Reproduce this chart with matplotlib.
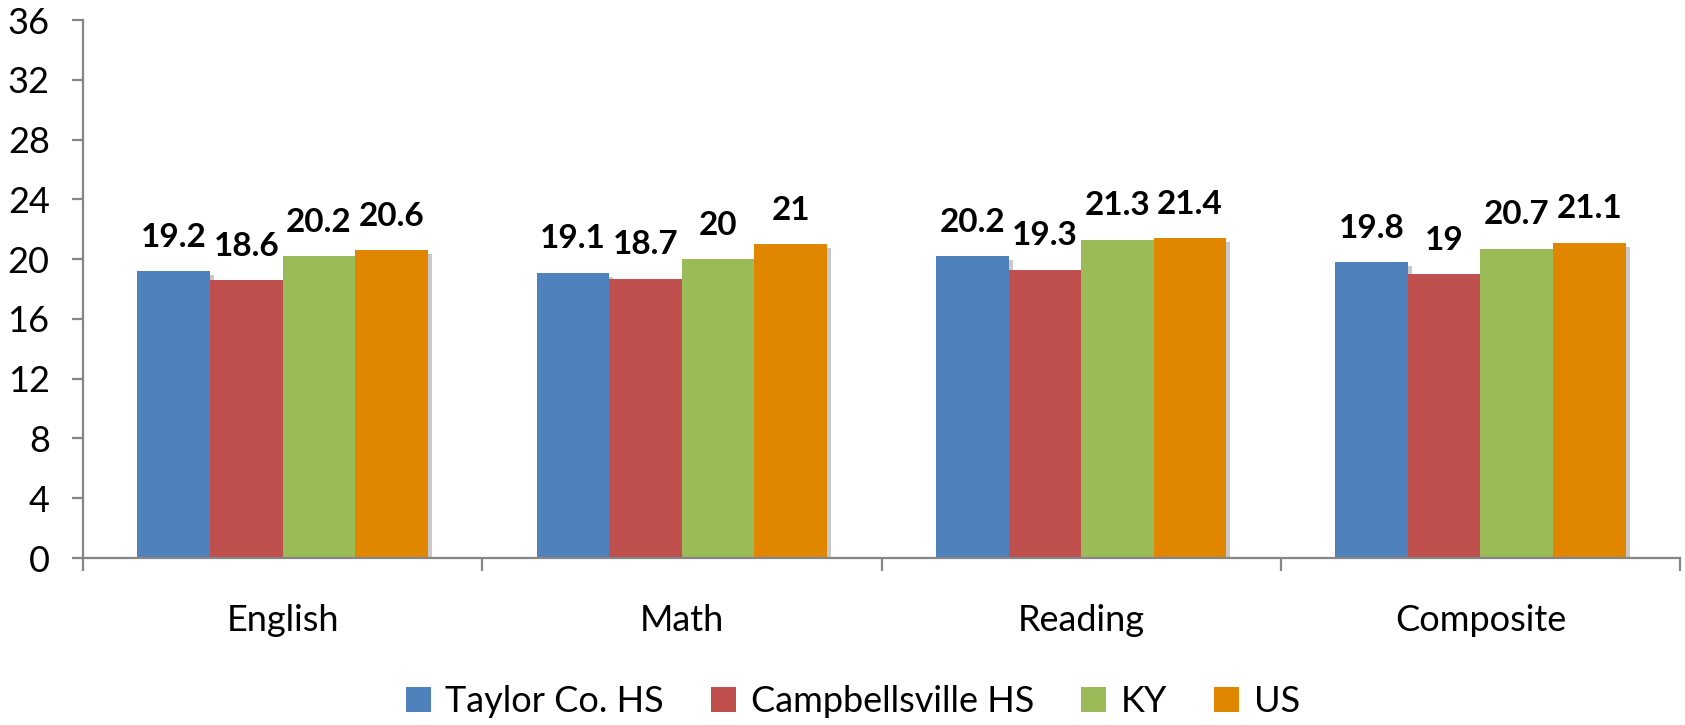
import matplotlib
matplotlib.use("Agg")
import matplotlib.pyplot as plt
import matplotlib.patheffects as pe
import numpy as np

plt.rcParams["font.family"] = ["Lato", "DejaVu Sans"]

SUBJECTS = ["English", "Math", "Reading", "Composite"]
SERIES = ["Taylor Co. HS", "Campbellsville HS", "KY", "US"]
TAYLOR = [19.2, 19.1, 20.2, 19.8]
CAMPBELLSVILLE = [18.6, 18.7, 19.3, 19.0]
KY = [20.2, 20.0, 21.3, 20.7]
US = [20.6, 21.0, 21.4, 21.1]
YTICKS = [0, 4, 8, 12, 16, 20, 24, 28, 32, 36]

COLORS = ["#4F81BD", "#C0504D", "#9BBB59", "#E08600"]
AXIS_GRAY = "#868686"
FS = 26


def fmt(v):
    return f"{v:g}"


fig = plt.figure(figsize=(16.85, 7.25), dpi=100)
ax = fig.add_axes([83 / 1685, 1 - 558 / 725, (1680 - 83) / 1685, (558 - 20) / 725])

x = np.arange(len(SUBJECTS))
n = len(SERIES)
bar_w = 4 / (4 + 1.5) / n
shadow = [pe.SimplePatchShadow(offset=(3, -3), shadow_rgbFace="#888888", alpha=0.45),
          pe.Normal()]

for i, (name, vals, col) in enumerate(zip(SERIES, [TAYLOR, CAMPBELLSVILLE, KY, US], COLORS)):
    pos = x + (i - (n - 1) / 2) * bar_w
    bars = ax.bar(pos, vals, width=bar_w, color=col, label=name, zorder=2)
    for b in bars:
        b.set_path_effects(shadow)
    for p, v in zip(pos, vals):
        ax.annotate(fmt(v), (p, v), xytext=(0, 17.5), textcoords="offset points",
                    ha="center", va="baseline", fontsize=24, fontweight="bold")

ax.set_xlim(-0.5, len(SUBJECTS) - 0.5)
ax.set_ylim(0, 36)
ax.set_yticks(YTICKS)
ax.set_xticks(x)
ax.set_xticklabels(SUBJECTS, fontsize=FS)
ax.set_xticks(np.arange(len(SUBJECTS) + 1) - 0.5, minor=True)
ax.tick_params(axis="x", which="major", length=0, pad=33)
ax.tick_params(axis="x", which="minor", length=9, width=1.6, color=AXIS_GRAY, direction="out")
ax.tick_params(axis="y", labelsize=FS, length=8, width=1.6, color=AXIS_GRAY, pad=16)

for s in ["top", "right"]:
    ax.spines[s].set_visible(False)
for s in ["left", "bottom"]:
    ax.spines[s].set_color(AXIS_GRAY)
    ax.spines[s].set_linewidth(1.6)

leg = fig.legend(loc="center", bbox_to_anchor=(0.506, 0.032), ncol=4, frameon=False,
                 fontsize=FS, handlelength=0.7, handleheight=0.7, handletextpad=0.4,
                 columnspacing=1.3)
for h in leg.legend_handles:
    h.set_path_effects([])

fig.savefig("out.png", dpi=100)
